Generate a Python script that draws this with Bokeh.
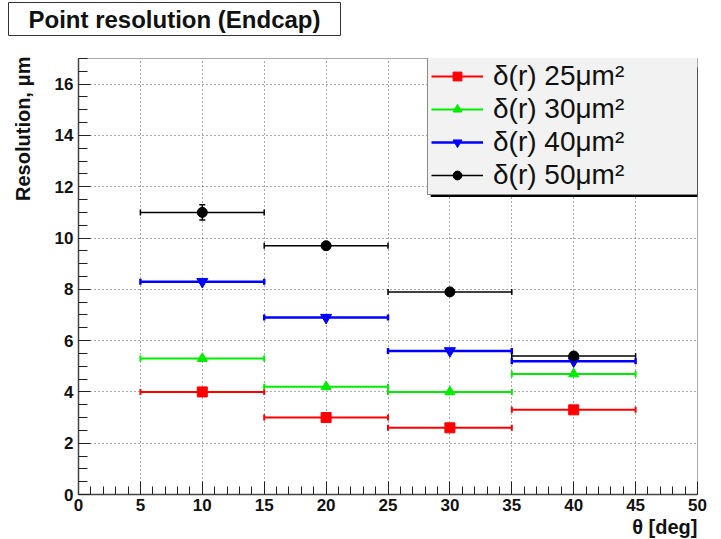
import numpy as np
from bokeh.plotting import figure
from bokeh.models import (SingleIntervalTicker, Legend, LegendItem,
                          BoxAnnotation, Range1d, Title)
from bokeh.embed import file_html
from bokeh.resources import INLINE

# ---------------- data ----------------
bin_lo = [5, 15, 25, 35]
bin_hi = [15, 25, 35, 45]
theta = [10, 20, 30, 40]
res25 = [4.0, 3.0, 2.6, 3.3]
res30 = [5.3, 4.2, 4.0, 4.7]
res40 = [8.3, 6.9, 5.6, 5.2]
res50 = [11.0, 9.7, 7.9, 5.4]
err50 = [0.3, 0.15, 0.12, 0.1]
series_labels = ["δ(r) 25μm²", "δ(r) 30μm²", "δ(r) 40μm²", "δ(r) 50μm²"]
title_text = "Point resolution (Endcap)"
x_title = "θ [deg]"
y_title = "Resolution, μm"

colors = ["#ff0000", "#00ee00", "#0000ff", "#000000"]
markers = ["square", "triangle", "inverted_triangle", "circle"]
msizes = [10, 10, 11, 10]
lwidths = [2, 2, 2.5, 1.5]

FONT = "Liberation Sans"

p = figure(width=721, height=539, output_backend="svg", toolbar_location=None,
           x_range=Range1d(0, 50), y_range=Range1d(0, 17),
           min_border_left=78, min_border_right=24, min_border_top=57,
           min_border_bottom=45)
p.background_fill_color = "white"
p.border_fill_color = "white"
p.outline_line_color = "#aaaaaa"
p.outline_line_width = 1

# axes
p.xaxis.ticker = SingleIntervalTicker(interval=5, num_minor_ticks=5)
p.yaxis.ticker = SingleIntervalTicker(interval=2, num_minor_ticks=4)
for ax in (p.xaxis, p.yaxis):
    ax.axis_line_color = "#444444"
    ax.axis_line_width = 1.5
    ax.major_tick_line_color = "#222222"
    ax.minor_tick_line_color = "#222222"
    ax.major_tick_out = 0
    ax.minor_tick_out = 0
    ax.major_label_text_font = FONT
    ax.major_label_text_font_style = "bold"
    ax.major_label_text_font_size = "17px"
    ax.major_label_text_color = "#111111"
p.xaxis.major_tick_in = 13
p.xaxis.minor_tick_in = 8
p.yaxis.major_tick_in = 12
p.yaxis.minor_tick_in = 9
p.xaxis.major_label_standoff = 4
p.yaxis.major_label_standoff = 5
# y-axis label space used as a spacer so the axis title sits further left
p.yaxis.axis_label = " "
p.yaxis.axis_label_text_font_size = "1px"
p.yaxis.axis_label_standoff = 14

p.xgrid.ticker = SingleIntervalTicker(interval=5)
p.ygrid.ticker = SingleIntervalTicker(interval=2)
for g in (p.xgrid, p.ygrid):
    g.grid_line_color = "#555555"
    g.grid_line_dash = "1 3"
    g.grid_line_width = 1

all_vals = [res25, res30, res40, res50]
legend_items = []
for i, vals in enumerate(all_vals):
    c = colors[i]
    seg = p.segment(x0=bin_lo, x1=bin_hi, y0=vals, y1=vals,
                    line_color=c, line_width=lwidths[i])
    p.scatter(x=bin_lo, y=vals, marker="dash", angle=np.pi / 2, size=6,
              line_color=c, line_width=lwidths[i])
    p.scatter(x=bin_hi, y=vals, marker="dash", angle=np.pi / 2, size=6,
              line_color=c, line_width=lwidths[i])
    if i == 3:
        lo = [v - e for v, e in zip(vals, err50)]
        hi = [v + e for v, e in zip(vals, err50)]
        p.segment(x0=theta, x1=theta, y0=lo, y1=hi, line_color=c, line_width=1.5)
        p.scatter(x=theta, y=lo, marker="dash", size=6, line_color=c, line_width=1.5)
        p.scatter(x=theta, y=hi, marker="dash", size=6, line_color=c, line_width=1.5)
    mk = p.scatter(x=theta, y=vals, marker=markers[i], size=msizes[i],
                   fill_color=c, line_color=c)
    legend_items.append(LegendItem(label=series_labels[i], renderers=[seg, mk]))

# legend shadow
shadow = BoxAnnotation(left=28.45, right=50.3, top=16.65, bottom=11.6,
                       fill_color="black", fill_alpha=1.0, line_color=None)
p.add_layout(shadow)

legend = Legend(items=legend_items, location=(349, 299),
                background_fill_color="#f2f2f2", background_fill_alpha=1.0,
                border_line_color="#222222", border_line_width=1,
                padding=3, spacing=0, margin=0,
                glyph_width=52, glyph_height=22, label_height=33,
                label_width=205, label_standoff=10,
                label_text_font=FONT, label_text_font_size="28px",
                label_text_color="#111111")
p.add_layout(legend)

# title box (a thin spacer title keeps it away from the frame)
p.add_layout(Title(text=" ", text_font_size="1px", standoff=20), "above")
main_title = Title(text=title_text, align="left", vertical_align="bottom",
                   offset=-70, standoff=0,
                   text_font=FONT, text_font_style="bold", text_font_size="24px",
                   text_color="#111111",
                   border_line_color="#333333", border_line_width=1,
                   background_fill_color="white",
                   padding=dict(left=20, right=20, top=3, bottom=3))
p.add_layout(main_title, "above")

# axis titles
p.add_layout(Title(text=x_title, align="right", standoff=0,
                   text_font=FONT, text_font_style="bold", text_font_size="20px",
                   text_color="#111111"), "below")
p.add_layout(Title(text=y_title, align="right", standoff=0, offset=-2,
                   text_font=FONT, text_font_style="bold", text_font_size="20px",
                   text_color="#111111"), "left")

open("out.html", "w").write(file_html(p, INLINE))
